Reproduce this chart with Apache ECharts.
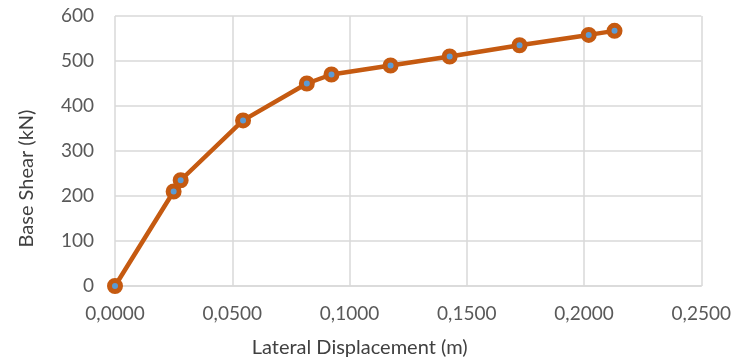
<!DOCTYPE html>
<html><head><meta charset="utf-8">
<script src="https://cdn.jsdelivr.net/npm/echarts@6/dist/echarts.min.js"></script>
<style>html,body{margin:0;padding:0;background:#fff}#c{width:734px;height:363px}</style>
</head><body><div id="c"></div>
<script>
const displacement = [0, 0.0250, 0.0280, 0.0546, 0.0818, 0.0923, 0.1175, 0.1427, 0.1725, 0.2020, 0.2130];
const baseShear = [0, 210, 235, 368, 450, 470, 490, 510, 535, 558, 567];
const xTitle = 'Lateral Displacement (m)';
const yTitle = 'Base Shear (kN)';

const font = 'Lato, "Open Sans", sans-serif';
const chart = echarts.init(document.getElementById('c'));
chart.setOption({
  animation: false,
  grid: {left: 115, right: 31, top: 16, bottom: 74, containLabel: false},
  xAxis: {
    type: 'value', min: 0, max: 0.25, interval: 0.05,
    name: xTitle, nameLocation: 'middle', nameGap: 52,
    nameTextStyle: {color: '#404040', fontSize: 20, fontFamily: font, padding: [0, 97, 0, 0]},
    axisLine: {show: true, lineStyle: {color: '#D9D9D9', width: 1.5}},
    axisTick: {show: false},
    splitLine: {show: true, lineStyle: {color: '#D9D9D9', width: 1.5}},
    axisLabel: {color: '#595959', fontSize: 19, fontFamily: font, margin: 18,
      formatter: v => v.toFixed(4).replace('.', ',')}
  },
  yAxis: {
    type: 'value', min: 0, max: 600, interval: 100,
    name: yTitle, nameLocation: 'middle', nameGap: 78, nameRotate: 90,
    nameTextStyle: {color: '#404040', fontSize: 20, fontFamily: font, padding: [0, 55, 0, 0]},
    axisLine: {show: false},
    axisTick: {show: false},
    splitLine: {show: true, lineStyle: {color: '#D9D9D9', width: 1.5}},
    axisLabel: {color: '#595959', fontSize: 19, fontFamily: font, margin: 21}
  },
  series: [{
    type: 'line',
    data: displacement.map((x, i) => [x, baseShear[i]]),
    lineStyle: {color: '#C55A11', width: 4.5},
    symbol: 'circle', symbolSize: 11,
    itemStyle: {color: '#5B9BD5', borderColor: '#C55A11', borderWidth: 5},
    z: 3
  }]
});
</script></body></html>
